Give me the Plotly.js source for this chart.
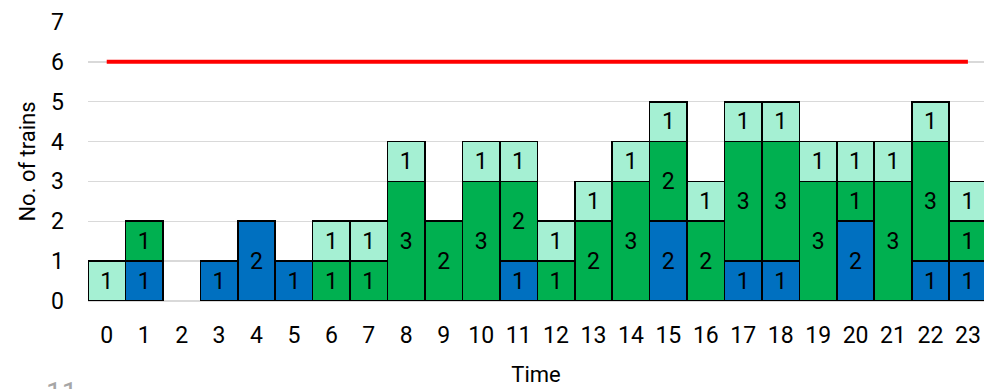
<!DOCTYPE html>
<html>
<head>
<meta charset="utf-8">
<script src="https://cdn.plot.ly/plotly-3.0.1.min.js"></script>
<style>
  html, body { margin: 0; padding: 0; background: #fff; }
  #chart { width: 984px; height: 389px; }
</style>
</head>
<body>
<div id="chart"></div>
<script>
// Hour of day
const hours = [0,1,2,3,4,5,6,7,8,9,10,11,12,13,14,15,16,17,18,19,20,21,22,23];
// Trains per hour, stacked bottom to top
const blueTrains  = [0,1,0,1,2,1,0,0,0,0,0,1,0,0,0,2,0,1,1,0,2,0,1,1];
const greenTrains = [0,1,0,0,0,0,1,1,3,2,3,2,1,2,3,2,2,3,3,3,1,3,3,1];
const lightTrains = [1,0,0,0,0,0,1,1,1,0,1,1,1,1,1,1,1,1,1,1,1,1,1,1];
// Line capacity per hour
const capacity    = [6,6,6,6,6,6,6,6,6,6,6,6,6,6,6,6,6,6,6,6,6,6,6,6];
const yTicks = [0,1,2,3,4,5,6,7];

const FONT = 'Roboto, sans-serif';
const FS = 23;

function barTrace(vals, color) {
  return {
    type: 'bar',
    x: hours,
    y: vals.map(v => v === 0 ? null : v),
    text: vals.map(v => v === 0 ? '' : String(v)),
    textposition: 'inside',
    insidetextanchor: 'middle',
    constraintext: 'none',
    textangle: 0,
    textfont: { family: FONT, size: FS, color: '#000' },
    marker: { color: color, line: { color: '#000', width: 1.6 } },
    hoverinfo: 'skip',
    showlegend: false
  };
}

const traces = [
  barTrace(blueTrains, '#0070C0'),
  barTrace(greenTrains, '#00B050'),
  barTrace(lightTrains, '#A5F0D3'),
  {
    type: 'scatter',
    mode: 'lines',
    x: hours,
    y: capacity,
    line: { color: '#FF0000', width: 4 },
    hoverinfo: 'skip',
    showlegend: false
  }
];

const layout = {
  width: 984,
  height: 389,
  margin: { l: 88, r: 0, t: 22, b: 88 },
  paper_bgcolor: '#fff',
  plot_bgcolor: '#fff',
  barmode: 'stack',
  bargap: 0,
  font: { family: FONT, size: FS, color: '#000' },
  xaxis: {
    type: 'linear',
    range: [-0.5, 23.43],
    tickmode: 'array',
    tickvals: hours,
    ticktext: hours.map(String),
    showgrid: false,
    zeroline: false,
    showline: false,
    ticks: '',
    ticklabelstandoff: 18,
    tickfont: { family: FONT, size: FS, color: '#000' },
    title: { text: 'Time', font: { family: FONT, size: 22, color: '#000' }, standoff: 18 }
  },
  yaxis: {
    range: [0, 7],
    tickmode: 'array',
    tickvals: yTicks,
    ticktext: yTicks.map(String),
    showgrid: true,
    gridcolor: '#D9D9D9',
    gridwidth: 1.5,
    zeroline: true,
    zerolinecolor: '#D9D9D9',
    zerolinewidth: 1.5,
    showline: false,
    ticks: '',
    ticklabelstandoff: 23,
    tickfont: { family: FONT, size: FS, color: '#000' },
    title: { text: 'No. of trains', font: { family: FONT, size: 22, color: '#000' }, standoff: 9 }
  },
  annotations: [
    {
      text: '11',
      xref: 'paper', yref: 'paper',
      x: -0.030, y: -0.262,
      xanchor: 'center', yanchor: 'top',
      showarrow: false,
      font: { family: FONT, size: 28, color: '#A6A6A6' }
    }
  ]
};

Plotly.newPlot('chart', traces, layout, { displayModeBar: false, staticPlot: true });
</script>
</body>
</html>
